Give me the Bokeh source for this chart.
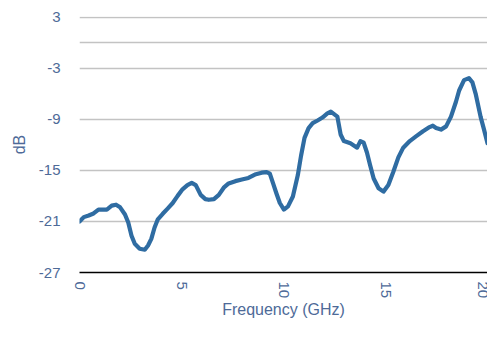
from bokeh.plotting import figure
from bokeh.models import FixedTicker, Range1d
from bokeh.embed import file_html
from bokeh.resources import INLINE

freq_ghz = [0.00, 0.21, 0.45, 0.69, 0.93, 1.18, 1.34, 1.58, 1.79, 1.99,
            2.23, 2.39, 2.55, 2.71, 2.95, 3.20, 3.36, 3.52, 3.68, 3.84,
            4.08, 4.32, 4.57, 4.81, 5.05, 5.29, 5.50, 5.70, 5.94, 6.17,
            6.34, 6.59, 6.83, 7.07, 7.31, 7.64, 7.96, 8.28, 8.60, 8.93,
            9.17, 9.33, 9.49, 9.65, 9.82, 10.02, 10.22, 10.46, 10.70, 10.86,
            11.03, 11.23, 11.43, 11.67, 11.91, 12.15, 12.32, 12.48, 12.64, 12.80,
            12.96, 13.28, 13.61, 13.77, 13.93, 14.09, 14.25, 14.42, 14.66, 14.90,
            15.14, 15.38, 15.63, 15.87, 16.19, 16.51, 16.84, 17.16, 17.32, 17.48,
            17.72, 17.97, 18.21, 18.45, 18.61, 18.85, 19.09, 19.26, 19.42, 19.66,
            19.83, 20.00]
level_db = [-21.02, -20.49, -20.29, -20.06, -19.60, -19.60, -19.60, -19.14, -19.03, -19.34,
            -20.18, -21.13, -22.67, -23.63, -24.20, -24.32, -23.82, -23.05, -21.71, -20.75,
            -20.10, -19.49, -18.83, -17.99, -17.22, -16.72, -16.46, -16.72, -17.87, -18.37,
            -18.45, -18.37, -17.87, -17.03, -16.53, -16.26, -16.07, -15.88, -15.49, -15.26,
            -15.19, -15.38, -16.53, -17.68, -18.83, -19.60, -19.22, -18.07, -15.57, -13.27,
            -11.17, -10.02, -9.44, -9.13, -8.78, -8.29, -8.09, -8.38, -8.67, -10.77,
            -11.55, -11.81, -12.32, -11.55, -11.74, -12.89, -14.42, -15.95, -17.10, -17.49,
            -16.72, -15.19, -13.47, -12.32, -11.55, -10.97, -10.39, -9.90, -9.74, -10.01,
            -10.20, -9.82, -8.67, -6.95, -5.60, -4.38, -4.15, -4.64, -5.99, -8.67,
            -10.20, -11.80]

x_ticks = [0, 5, 10, 15, 20]
y_ticks = [-27, -21, -15, -9, -3, 3]
zero_line = [0]
x_title = "Frequency (GHz)"
y_title = "dB"

FONT = "Liberation Sans"
TXT = "#4e6a98"

p = figure(width=487, height=321, output_backend="svg", toolbar_location=None,
           x_range=Range1d(x_ticks[0], x_ticks[-1]), y_range=Range1d(-27, 3.1),
           min_border_left=79, min_border_right=0, min_border_top=16,
           min_border_bottom=40)
p.outline_line_color = None
p.border_fill_color = "white"
p.background_fill_color = "white"

p.line(freq_ghz, level_db, line_color="#2f6ca2", line_width=4.2,
       line_join="round", line_cap="round")

p.xgrid.grid_line_color = None
p.ygrid.ticker = FixedTicker(ticks=y_ticks, minor_ticks=zero_line)
p.ygrid.grid_line_color = "#c3c3c3"
p.ygrid.grid_line_width = 1.5
p.ygrid.minor_grid_line_color = "#c3c3c3"
p.ygrid.minor_grid_line_width = 1.5

p.xaxis.ticker = FixedTicker(ticks=x_ticks)
p.yaxis.ticker = FixedTicker(ticks=y_ticks, minor_ticks=[])
p.yaxis.major_label_overrides = {t: str(t) for t in y_ticks}

for ax in (p.xaxis[0], p.yaxis[0]):
    ax.major_tick_line_color = None
    ax.minor_tick_line_color = None
    ax.major_tick_out = 0
    ax.major_tick_in = 0
    ax.minor_tick_out = 0
    ax.minor_tick_in = 0
    ax.major_label_text_font = FONT
    ax.major_label_text_font_size = "15px"
    ax.major_label_text_color = TXT
    ax.axis_label_text_font = FONT
    ax.axis_label_text_font_size = "16px"
    ax.axis_label_text_font_style = "normal"
    ax.axis_label_text_color = TXT

p.xaxis.axis_label = x_title
p.xaxis.axis_line_color = "black"
p.xaxis.axis_line_width = 1.5
p.xaxis.major_label_orientation = "vertical"
p.xaxis.major_label_standoff = 9
p.xaxis.axis_label_standoff = 0

p.yaxis.axis_label = y_title
p.yaxis.axis_line_color = None
p.yaxis.major_label_standoff = 19
p.yaxis.axis_label_standoff = 8

open("out.html", "w").write(file_html(p, INLINE))
